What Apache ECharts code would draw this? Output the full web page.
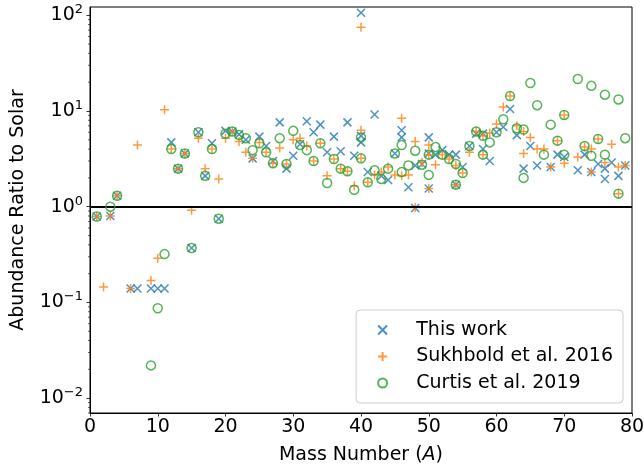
<!DOCTYPE html>
<html>
<head>
<meta charset="utf-8">
<script src="https://cdn.jsdelivr.net/npm/echarts@6/dist/echarts.min.js"></script>
<style>
  html, body { margin: 0; padding: 0; background: #fff; }
  #main { width: 644px; height: 465px; }
</style>
</head>
<body>
<div id="main"></div>
<script>
// [mass number A, abundance ratio]
var thisWork = [
    [1, 0.79], [3, 0.80], [4, 1.30], [6, 0.14], [7, 0.14], [9, 0.14], [10, 0.14], [11, 0.14],
    [12, 4.7], [13, 2.5], [14, 3.6], [15, 0.37], [16, 6.0], [17, 2.1], [18, 4.6], [19, 0.75],
    [20, 6.2], [21, 6.1], [22, 5.7], [23, 5.0], [24, 3.2], [25, 5.4], [26, 4.3], [27, 3.0],
    [28, 7.6], [29, 2.5], [30, 3.4], [31, 4.5], [32, 7.8], [33, 6.0], [34, 7.2], [35, 3.7],
    [36, 5.4], [37, 3.8], [38, 7.6], [39, 3.4], [40, 106], [40, 5.5], [40, 4.7], [41, 2.3],
    [42, 9.2], [43, 2.1], [44, 1.9], [45, 3.6], [46, 6.3], [46, 5.3], [47, 1.6], [48, 2.7],
    [48, 0.97], [49, 2.8], [50, 5.3], [50, 3.6], [50, 1.55], [51, 3.5], [52, 3.9], [53, 3.5],
    [54, 3.5], [54, 1.7], [55, 2.6], [56, 4.3], [57, 5.8], [58, 5.8], [58, 4.0], [59, 3.0],
    [60, 6.0], [61, 6.8], [62, 10.5], [63, 5.6], [64, 2.5], [65, 4.3], [66, 2.7], [68, 2.6],
    [69, 3.5], [70, 3.3], [72, 2.4], [73, 3.5], [74, 2.3], [75, 2.8], [76, 2.5], [76, 1.95],
    [77, 2.9], [78, 2.1], [79, 2.7]
];
var sukhbold2016 = [
    [1, 0.79], [2, 0.145], [3, 0.80], [4, 1.30], [6, 0.14], [7, 4.4], [9, 0.17], [10, 0.29],
    [11, 10.3], [12, 4.0], [13, 2.5], [14, 3.6], [15, 0.92], [16, 5.2], [17, 2.5], [18, 4.0],
    [19, 1.95], [20, 5.2], [21, 6.1], [22, 4.8], [23, 3.7], [24, 3.2], [25, 4.7], [26, 3.7],
    [27, 2.85], [28, 4.1], [29, 2.8], [30, 5.0], [31, 5.2], [32, 4.3], [33, 3.0], [34, 4.6],
    [35, 2.1], [36, 3.15], [37, 2.5], [38, 2.35], [39, 1.65], [40, 75], [40, 6.3], [40, 3.2],
    [41, 1.8], [42, 2.15], [43, 2.3], [44, 2.6], [45, 2.15], [46, 8.4], [46, 2.1], [47, 2.15],
    [48, 4.8], [48, 0.98], [49, 2.9], [50, 4.4], [50, 3.5], [50, 1.55], [51, 2.75], [52, 3.5],
    [53, 3.15], [54, 2.7], [54, 1.7], [55, 2.25], [56, 3.7], [57, 6.1], [58, 5.5], [58, 3.5],
    [59, 5.9], [60, 7.3], [61, 11.0], [62, 14.3], [63, 7.0], [64, 6.1], [64, 3.6], [65, 5.3],
    [66, 4.0], [67, 4.0], [68, 2.6], [69, 4.9], [70, 9.1], [70, 2.85], [72, 3.3], [73, 4.2],
    [74, 4.0], [74, 2.3], [75, 5.1], [76, 2.9], [77, 4.5], [78, 2.6], [78, 1.37], [79, 2.7]
];
var curtis2019 = [
    [1, 0.79], [3, 1.0], [4, 1.30], [9, 0.022], [10, 0.087], [11, 0.32], [12, 4.0], [13, 2.5],
    [14, 3.6], [15, 0.37], [16, 6.0], [17, 2.1], [18, 4.0], [19, 0.75], [20, 5.8], [21, 6.1],
    [22, 5.6], [23, 5.2], [24, 3.9], [25, 4.6], [26, 3.7], [27, 2.85], [28, 5.2], [29, 2.8],
    [30, 6.2], [31, 4.4], [32, 3.9], [33, 3.0], [34, 4.6], [35, 1.77], [36, 3.15], [37, 2.5],
    [38, 2.35], [39, 1.5], [40, 5.3], [40, 3.2], [41, 1.8], [42, 2.4], [43, 1.95], [44, 2.5],
    [45, 3.6], [46, 4.4], [46, 2.3], [47, 2.7], [48, 3.85], [49, 2.75], [50, 3.5], [50, 2.15],
    [51, 4.2], [52, 3.5], [53, 3.15], [54, 2.8], [54, 1.7], [55, 2.25], [56, 4.3], [57, 6.1],
    [58, 5.5], [58, 3.5], [59, 4.7], [60, 6.0], [61, 8.2], [62, 14.3], [63, 6.6], [64, 6.4],
    [64, 2.0], [65, 19.6], [66, 11.5], [67, 3.5], [68, 7.2], [69, 4.9], [70, 9.1], [70, 3.5],
    [72, 21.6], [73, 4.3], [74, 18.3], [74, 3.4], [75, 5.1], [76, 14.8], [76, 3.5], [78, 13.2],
    [78, 1.37], [79, 5.2]
];
var seriesNames = ['This work', 'Sukhbold et al. 2016', 'Curtis et al. 2019'];
var minorTickVals = [0.007, 0.008, 0.009, 0.02, 0.03, 0.04, 0.05, 0.06, 0.07, 0.08, 0.09,
    0.2, 0.3, 0.4, 0.5, 0.6, 0.7, 0.8, 0.9, 2, 3, 4, 5, 6, 7, 8, 9,
    20, 30, 40, 50, 60, 70, 80, 90];

var FONT = 'DejaVu Sans';
var FS = 19;
var crossPath = 'path://M0,0L10,10M0,10L10,0';
var plusPath = 'path://M5,0L5,10M0,5L10,5';

var chartDom = document.getElementById('main');
var myChart = echarts.init(chartDom);
var option;

function markerStyle(color) {
    return {
        color: 'rgba(0,0,0,0)',
        borderColor: color,
        borderWidth: 1.5
    };
}

option = {
    animation: false,
    textStyle: { fontFamily: FONT },
    grid: {
        left: 90,
        right: 12,
        top: 7,
        bottom: 52,
        outerBoundsMode: 'none',
        containLabel: false,
        show: true,
        borderColor: '#000',
        borderWidth: 1,
        backgroundColor: '#fff'
    },
    legend: {
        data: seriesNames,
        orient: 'vertical',
        right: 21,
        bottom: 62,
        backgroundColor: 'rgba(255,255,255,0.8)',
        borderColor: '#ccc',
        borderWidth: 1,
        borderRadius: 4,
        padding: [9, 10, 9, 21],
        itemWidth: 9,
        itemHeight: 9,
        itemGap: 4.5,
        formatter: function (name) {
            return '\u00a0\u00a0\u00a0\u00a0' + name;
        },
        textStyle: {
            fontFamily: FONT,
            fontSize: FS,
            color: '#000',
            lineHeight: 22
        }
    },
    xAxis: {
        type: 'value',
        min: 0,
        max: 80,
        interval: 10,
        name: 'Mass Number ({i|A})',
        nameLocation: 'middle',
        nameGap: 33,
        nameTextStyle: {
            fontFamily: FONT,
            fontSize: FS,
            color: '#000',
            rich: { i: { fontFamily: FONT, fontSize: FS, fontStyle: 'italic', color: '#000' } }
        },
        splitLine: { show: false },
        axisLine: { show: true, onZero: false, lineStyle: { color: '#000', width: 1 } },
        axisTick: { show: true, inside: false, length: 3.5, lineStyle: { color: '#000', width: 0.8 } },
        axisLabel: { fontFamily: FONT, fontSize: FS, color: '#000', margin: 5 }
    },
    yAxis: {
        type: 'log',
        logBase: 10,
        min: 0.007,
        max: 122,
        name: 'Abundance Ratio to Solar',
        nameLocation: 'middle',
        nameGap: 62,
        nameTextStyle: { fontFamily: FONT, fontSize: FS, color: '#000' },
        splitLine: { show: false },
        axisLine: { show: true, onZero: false, lineStyle: { color: '#000', width: 1 } },
        axisTick: { show: true, inside: false, length: 3.5, lineStyle: { color: '#000', width: 0.8 } },
        minorTick: { show: false },
        axisLabel: {
            showMinLabel: false,
            showMaxLabel: false,
            margin: 7,
            color: '#000',
            fontFamily: FONT,
            fontSize: FS,
            formatter: function (v) {
                var e = Math.round(Math.log10(v));
                if (Math.abs(Math.log10(v) - e) > 1e-6) return '';
                var s = e < 0 ? '\u2212' + (-e) : '' + e;
                return '10{s|' + s + '}';
            },
            rich: {
                s: { fontFamily: FONT, fontSize: 13, color: '#000', padding: [0, 0, 11, 0] }
            }
        }
    },
    series: [
        {
            name: seriesNames[0],
            type: 'scatter',
            data: thisWork,
            symbol: crossPath,
            symbolSize: 8,
            symbolKeepAspect: true,
            itemStyle: markerStyle('#1f77b4'),
            markLine: {
                silent: true,
                symbol: 'none',
                label: { show: false },
                lineStyle: { color: '#000', width: 2, type: 'solid' },
                data: [{ yAxis: 1 }]
            },
            z: 3
        },
        {
            name: seriesNames[1],
            type: 'scatter',
            data: sukhbold2016,
            symbol: plusPath,
            symbolSize: 9,
            symbolKeepAspect: true,
            itemStyle: markerStyle('#ff7f0e'),
            z: 4
        },
        {
            name: seriesNames[2],
            type: 'scatter',
            data: curtis2019,
            symbol: 'circle',
            symbolSize: 9,
            itemStyle: markerStyle('#2ca02c'),
            z: 5
        },
        {
            // minor log ticks on the y axis
            type: 'custom',
            silent: true,
            clip: false,
            data: minorTickVals,
            encode: { x: -1, y: 0 },
            renderItem: function (params, api) {
                var p = api.coord([0, api.value(0)]);
                return {
                    type: 'line',
                    shape: { x1: p[0] - 2, y1: p[1], x2: p[0], y2: p[1] },
                    style: { stroke: '#000', lineWidth: 0.6 }
                };
            }
        }
    ]
};

option && myChart.setOption(option);
</script>
</body>
</html>
